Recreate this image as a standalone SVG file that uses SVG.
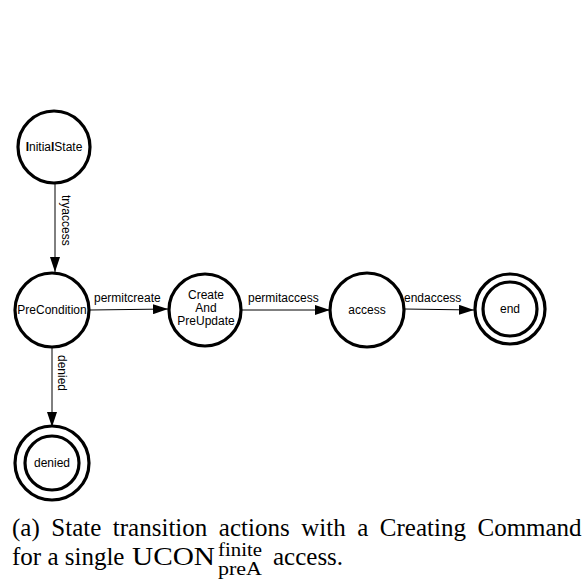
<svg xmlns="http://www.w3.org/2000/svg" width="586" height="582" viewBox="0 0 586 582">
  <style>
    .state { fill: #ffffff; stroke: #000000; stroke-width: 3.2; }
    .label { font-family: "Liberation Sans", Arial, sans-serif; font-size: 12px; fill: #000000; }
    .edge { stroke: #000000; stroke-width: 1; fill: none; marker-end: url(#arrow); }
    .caption { font-family: "Liberation Serif", "Times New Roman", serif; font-size: 25px; fill: #000000; }
    .script { font-size: 18px; }
  </style>
  <defs>
    <marker id="arrow" viewBox="0 0 15 10" refX="15" refY="5" markerWidth="15" markerHeight="10" markerUnits="userSpaceOnUse" orient="auto">
      <path d="M0,0 L15,5 L0,10 Z" fill="#000000"/>
    </marker>
  </defs>
  <rect width="586" height="582" fill="#ffffff"/>

  <g id="connectors">
    <path class="edge" d="M55,184 L55,272"/>
    <path class="edge" d="M90,310 L168,309"/>
    <path class="edge" d="M242,310 L330,310"/>
    <path class="edge" d="M404,309 L474,310"/>
    <path class="edge" d="M52,348 L52,427"/>
    <text class="label" transform="translate(62,195) rotate(90)">tryaccess</text>
    <text class="label" x="94" y="302">permitcreate</text>
    <text class="label" x="248" y="302">permitaccess</text>
    <text class="label" x="404" y="302">endaccess</text>
    <text class="label" transform="translate(58,355) rotate(90)">denied</text>
  </g>

  <g id="initial-state">
    <circle class="state" cx="54" cy="147" r="36"/>
    <text class="label" x="54" y="151" text-anchor="middle"><tspan font-weight="bold">I</tspan>nitia<tspan font-weight="bold">l</tspan>State</text>
  </g>

  <g id="pre-condition">
    <circle class="state" cx="52" cy="310" r="37"/>
    <text class="label" x="52" y="314" text-anchor="middle">PreCondition</text>
  </g>

  <g id="create-and-preupdate">
    <circle class="state" cx="205" cy="310" r="36"/>
    <text class="label" x="206" y="299" text-anchor="middle">Create</text>
    <text class="label" x="206" y="312" text-anchor="middle">And</text>
    <text class="label" x="206" y="325" text-anchor="middle">PreUpdate</text>
  </g>

  <g id="access">
    <circle class="state" cx="367" cy="310" r="37"/>
    <text class="label" x="367" y="314" text-anchor="middle">access</text>
  </g>

  <g id="end">
    <circle class="state" cx="510" cy="309" r="35"/>
    <circle class="state" cx="510" cy="309" r="27"/>
    <text class="label" x="510" y="313" text-anchor="middle">end</text>
  </g>

  <g id="denied">
    <circle class="state" cx="52" cy="463" r="37"/>
    <circle class="state" cx="52" cy="463" r="27"/>
    <text class="label" x="52" y="467" text-anchor="middle">denied</text>
  </g>

  <g id="caption">
    <text class="caption" x="12" y="536" word-spacing="5.3">(a) State transition actions with a Creating Command</text>
    <text class="caption" x="12" y="565">for a single</text>
    <text class="caption" x="132" y="565" textLength="83" lengthAdjust="spacingAndGlyphs">UCON</text>
    <text class="caption script" x="218" y="556" textLength="44" lengthAdjust="spacingAndGlyphs">finite</text>
    <text class="caption script" x="218" y="575" textLength="44" lengthAdjust="spacingAndGlyphs">preA</text>
    <text class="caption" x="273" y="565">access.</text>
  </g>
</svg>
